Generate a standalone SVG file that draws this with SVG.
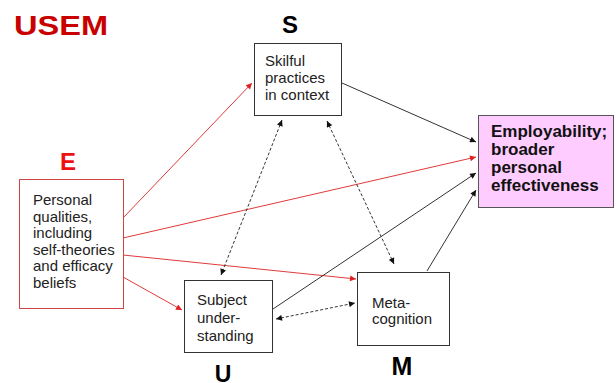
<svg xmlns="http://www.w3.org/2000/svg" width="616" height="383" viewBox="0 0 616 383">
  <style>
    .box { fill: #ffffff; stroke: #333333; stroke-width: 1; }
    .txt { font-family: "Liberation Sans", Arial, sans-serif; font-size: 15px; fill: #222222; }
    .big { font-family: "Liberation Sans", Arial, sans-serif; font-weight: bold; text-anchor: middle; }
    .blk { stroke: #333333; stroke-width: 1; fill: none; marker-end: url(#ahB); }
    .red { stroke: #e03a3a; stroke-width: 1; fill: none; marker-end: url(#ahR); }
    .dash { stroke: #333333; stroke-width: 1; fill: none; stroke-dasharray: 3 2; marker-start: url(#ahS); marker-end: url(#ahB); }
  </style>
  <defs>
    <marker id="ahB" viewBox="0 0 10 10" refX="10" refY="5" markerWidth="7" markerHeight="6" markerUnits="userSpaceOnUse" orient="auto">
      <path d="M0,0 L10,5 L0,10 z" fill="#111111"/>
    </marker>
    <marker id="ahS" viewBox="0 0 10 10" refX="0" refY="5" markerWidth="7" markerHeight="6" markerUnits="userSpaceOnUse" orient="auto">
      <path d="M10,0 L0,5 L10,10 z" fill="#111111"/>
    </marker>
    <marker id="ahR" viewBox="0 0 10 10" refX="10" refY="5" markerWidth="7" markerHeight="6" markerUnits="userSpaceOnUse" orient="auto">
      <path d="M0,0 L10,5 L0,10 z" fill="#e02020"/>
    </marker>
  </defs>

  <rect width="616" height="383" fill="#ffffff"/>

  <!-- heading -->
  <text x="14" y="35" font-family="Liberation Sans, Arial, sans-serif" font-weight="bold" font-size="28" fill="#c80000" textLength="94" lengthAdjust="spacingAndGlyphs">USEM</text>

  <!-- connectors -->
  <g id="connectors">
    <line class="red" x1="123" y1="218" x2="252" y2="83"/>
    <line class="red" x1="123" y1="238" x2="476" y2="157"/>
    <line class="red" x1="123" y1="255" x2="356" y2="279"/>
    <line class="red" x1="123" y1="277" x2="182" y2="310"/>
    <line class="blk" x1="342" y1="83" x2="476" y2="142"/>
    <line class="blk" x1="273" y1="309" x2="476" y2="173"/>
    <line class="blk" x1="427" y1="271" x2="476" y2="190"/>
    <line class="dash" x1="282" y1="120" x2="221" y2="275"/>
    <line class="dash" x1="327" y1="121" x2="394" y2="264"/>
    <line class="dash" x1="276" y1="319" x2="355" y2="303"/>
  </g>

  <!-- S: skilful practices -->
  <g id="node-s">
    <text class="big" x="290" y="33" font-size="24" fill="#000000">S</text>
    <rect class="box" x="254.5" y="43.5" width="87" height="72"/>
    <text class="txt" x="265" y="66">Skilful</text>
    <text class="txt" x="265" y="83">practices</text>
    <text class="txt" x="265" y="100">in context</text>
  </g>

  <!-- E: personal qualities -->
  <g id="node-e">
    <text class="big" x="68" y="170" font-size="24" fill="#ee1111">E</text>
    <rect x="19.5" y="179.5" width="104" height="129" fill="#ffffff" stroke="#cc4444" stroke-width="1"/>
    <text class="txt" x="33" y="205">Personal</text>
    <text class="txt" x="33" y="221.5">qualities,</text>
    <text class="txt" x="33" y="238">including</text>
    <text class="txt" x="33" y="254.5">self-theories</text>
    <text class="txt" x="33" y="271">and efficacy</text>
    <text class="txt" x="33" y="287.5">beliefs</text>
  </g>

  <!-- U: subject understanding -->
  <g id="node-u">
    <rect class="box" x="184.5" y="280.5" width="88" height="72"/>
    <text class="txt" x="197" y="305">Subject</text>
    <text class="txt" x="197" y="323">under-</text>
    <text class="txt" x="197" y="341">standing</text>
    <text class="big" x="223" y="382" font-size="23" fill="#000000">U</text>
  </g>

  <!-- M: metacognition -->
  <g id="node-m">
    <rect class="box" x="357.5" y="272.5" width="92" height="73"/>
    <text class="txt" x="372" y="308">Meta-</text>
    <text class="txt" x="372" y="324">cognition</text>
    <text class="big" x="402" y="375" font-size="25" fill="#000000">M</text>
  </g>

  <!-- outcome -->
  <g id="node-employability">
    <rect x="478.5" y="115.5" width="135" height="92" fill="#ffccff" stroke="#555555" stroke-width="1"/>
    <g font-family="Liberation Sans, Arial, sans-serif" font-weight="bold" font-size="17" fill="#111111">
      <text x="491" y="137">Employability;</text>
      <text x="491" y="155">broader</text>
      <text x="491" y="173">personal</text>
      <text x="491" y="191">effectiveness</text>
    </g>
  </g>
</svg>
